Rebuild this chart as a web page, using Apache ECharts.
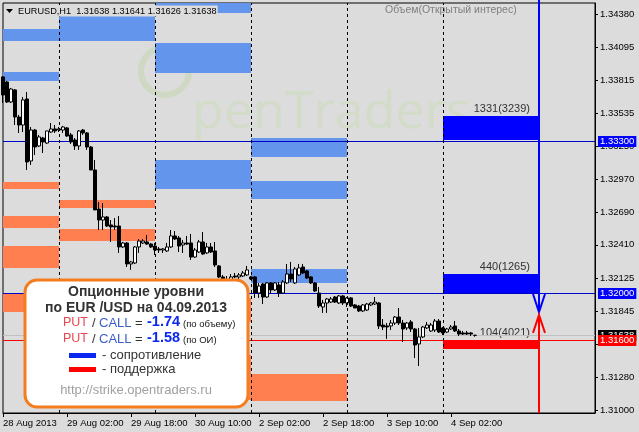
<!DOCTYPE html>
<html><head><meta charset="utf-8">
<script src="https://cdn.jsdelivr.net/npm/echarts@6/dist/echarts.min.js"></script>
<style>html,body{margin:0;padding:0;background:#dcdcdc}#c{width:639px;height:432px}</style>
</head><body><div id="c"></div><script>
// ---- time axis (hourly bars, weekend skipped) ----
const days = [
  {name:'28 Aug', first:10, count:14},
  {name:'29 Aug', first:0, count:24},
  {name:'30 Aug', first:0, count:24},
  {name:'2 Sep', first:0, count:24},
  {name:'3 Sep', first:0, count:24},
  {name:'4 Sep', first:0, count:24},
  {name:'5 Sep', first:0, count:15}
];
const tickIndex  = [0, 16, 32, 48, 64, 80, 96, 112];
const tickLabels = ['28 Aug 2013','29 Aug 02:00','29 Aug 18:00','30 Aug 10:00','2 Sep 02:00','2 Sep 18:00','3 Sep 10:00','4 Sep 02:00'];
const daySeparators = [14, 38, 62, 86, 110];
const yTicks = [1.34380,1.34095,1.33815,1.33535,1.33250,1.32970,1.32690,1.32410,1.32125,1.31845,1.31565,1.31280,1.31000];

// ---- EURUSD H1 candles: [open, close, low, high] ----
const candles = [
[1.33843,1.33689,1.33621,1.33851],[1.33800,1.33629,1.33621,1.33809],[1.33629,1.33740,1.33621,1.33749],
[1.33732,1.33501,1.33433,1.33740],[1.33501,1.33433,1.33365,1.33519],[1.33433,1.33647,1.33373,1.33672],
[1.33655,1.33117,1.33049,1.33715],[1.33126,1.33390,1.33092,1.33416],[1.33390,1.33245,1.33177,1.33399],
[1.33254,1.33331,1.33245,1.33348],[1.33322,1.33288,1.33194,1.33331],[1.33279,1.33382,1.33271,1.33382],
[1.33373,1.33399,1.33365,1.33450],[1.33399,1.33382,1.33365,1.33433],[1.33390,1.33399,1.33373,1.33416],
[1.33390,1.33416,1.33365,1.33425],[1.33408,1.33339,1.33331,1.33416],[1.33348,1.33288,1.33271,1.33365],
[1.33305,1.33254,1.33220,1.33322],[1.33254,1.33382,1.33220,1.33390],[1.33390,1.33365,1.33348,1.33399],
[1.33365,1.33245,1.33220,1.33373],[1.33245,1.33049,1.33049,1.33254],[1.33049,1.32708,1.32708,1.33134],
[1.32716,1.32622,1.32537,1.32776],[1.32622,1.32648,1.32537,1.32767],[1.32648,1.32571,1.32563,1.32656],
[1.32580,1.32563,1.32435,1.32622],[1.32571,1.32563,1.32537,1.32639],[1.32571,1.32392,1.32341,1.32656],
[1.32392,1.32426,1.32383,1.32435],[1.32426,1.32247,1.32221,1.32435],[1.32247,1.32264,1.32196,1.32272],
[1.32255,1.32392,1.32247,1.32400],[1.32392,1.32443,1.32341,1.32460],[1.32426,1.32443,1.32417,1.32460],
[1.32435,1.32417,1.32409,1.32494],[1.32417,1.32392,1.32383,1.32426],[1.32400,1.32366,1.32324,1.32426],
[1.32375,1.32366,1.32341,1.32392],[1.32366,1.32375,1.32341,1.32383],[1.32358,1.32392,1.32349,1.32426],
[1.32392,1.32486,1.32383,1.32537],[1.32486,1.32460,1.32452,1.32528],[1.32469,1.32400,1.32349,1.32486],
[1.32409,1.32426,1.32341,1.32452],[1.32426,1.32417,1.32409,1.32486],[1.32426,1.32306,1.32281,1.32503],
[1.32306,1.32366,1.32298,1.32383],[1.32349,1.32435,1.32341,1.32452],[1.32435,1.32332,1.32324,1.32520],
[1.32341,1.32392,1.32332,1.32426],[1.32392,1.32349,1.32341,1.32426],[1.32358,1.32238,1.32221,1.32435],
[1.32230,1.32136,1.32127,1.32238],[1.32136,1.32110,1.32085,1.32153],[1.32110,1.32093,1.32068,1.32144],
[1.32093,1.32136,1.32076,1.32161],[1.32144,1.32136,1.32127,1.32170],[1.32136,1.32153,1.32110,1.32170],
[1.32144,1.32170,1.32136,1.32187],[1.32153,1.32196,1.32144,1.32230],[1.32136,1.32119,1.32110,1.32144],
[1.32136,1.31999,1.31957,1.32144],[1.31999,1.32059,1.31957,1.32085],[1.32076,1.31965,1.31905,1.32085],
[1.31965,1.32085,1.31957,1.32093],[1.32085,1.32025,1.31999,1.32093],[1.32025,1.32085,1.32016,1.32093],
[1.32068,1.31999,1.31965,1.32093],[1.31999,1.32093,1.31991,1.32110],[1.32085,1.32161,1.32076,1.32247],
[1.32161,1.32119,1.32093,1.32264],[1.32085,1.32204,1.32076,1.32221],[1.32153,1.32213,1.32144,1.32247],
[1.32221,1.32170,1.32161,1.32247],[1.32187,1.32127,1.32119,1.32196],[1.32136,1.32085,1.32076,1.32144],
[1.32085,1.32016,1.32008,1.32093],[1.31999,1.31888,1.31871,1.32051],[1.31880,1.31914,1.31829,1.31940],
[1.31914,1.31948,1.31829,1.31957],[1.31922,1.31948,1.31914,1.31965],[1.31965,1.31922,1.31914,1.31974],
[1.31914,1.31974,1.31905,1.31982],[1.31974,1.31914,1.31897,1.31982],[1.31914,1.31957,1.31880,1.31965],
[1.31957,1.31888,1.31880,1.31965],[1.31897,1.31871,1.31871,1.31905],[1.31888,1.31846,1.31837,1.31897],
[1.31846,1.31897,1.31837,1.31905],[1.31854,1.31905,1.31846,1.31914],[1.31897,1.31914,1.31888,1.31922],
[1.31905,1.31922,1.31897,1.31965],[1.31914,1.31718,1.31692,1.31922],[1.31726,1.31709,1.31683,1.31777],
[1.31718,1.31709,1.31607,1.31743],[1.31718,1.31743,1.31683,1.31769],[1.31743,1.31794,1.31726,1.31803],
[1.31794,1.31743,1.31726,1.31871],[1.31743,1.31692,1.31581,1.31769],[1.31701,1.31743,1.31683,1.31752],
[1.31752,1.31692,1.31666,1.31769],[1.31692,1.31555,1.31444,1.31701],[1.31564,1.31624,1.31376,1.31701],
[1.31624,1.31709,1.31615,1.31718],[1.31701,1.31726,1.31692,1.31752],[1.31675,1.31726,1.31666,1.31743],
[1.31683,1.31760,1.31666,1.31777],[1.31760,1.31666,1.31658,1.31777],[1.31701,1.31658,1.31641,1.31709],
[1.31666,1.31692,1.31658,1.31701],[1.31692,1.31709,1.31683,1.31726],[1.31718,1.31675,1.31666,1.31760],
[1.31675,1.31649,1.31632,1.31692],[1.31658,1.31649,1.31641,1.31675],[1.31658,1.31649,1.31641,1.31675],
[1.31658,1.31649,1.31632,1.31666],[1.31638,1.31638,1.31626,1.31641]
];

// ---- option levels per day: [fromBar, toBar, lowPrice, highPrice] ----
const resistanceZones = [
  [0,14,1.34150,1.34252],[0,14,1.33809,1.33885],
  [14,38,1.34150,1.34363],
  [38,62,1.34389,1.34474],[38,62,1.33877,1.34133],[38,62,1.32887,1.33134],
  [62,86,1.33160,1.33322],[62,86,1.32802,1.32955],[62,86,1.32085,1.32204]
];
const supportZones = [
  [0,14,1.32887,1.32947],[0,14,1.32554,1.32656],[0,14,1.32213,1.32400],[0,14,1.31837,1.31999],
  [14,38,1.32725,1.32793],[14,38,1.32443,1.32545],
  [38,62,1.31752,1.31957],[38,62,1.31086,1.31470],
  [62,86,1.31078,1.31308]
];
const currentZones = [[110,134,1.33305,1.33510],[110,134,1.31999,1.32161],[110,134,1.31521,1.31598]];
const currentZoneLabels = ['1331(3239)','440(1265)','104(4021)'];
const currentZoneColors = ['#0000ff','#0000ff','#ff0000'];
const arrowData = [[134, 1.31837, 1.31812]]; // bar, blue tip, red tip
const priceLineValues = [1.33300, 1.32000, 1.31638, 1.31600];
const priceLineColors = ['#0000c8','#0000c8','#c0c0c0','#ff0000'];
const priceLabelColors = ['#0000ff','#0000ff','#000000','#ff0000'];

const cats = [];
days.forEach(d => { for (let k = 0; k < d.count; k++) cats.push(d.name + ' ' + String(d.first + k).padStart(2,'0') + ':00'); });

const FONT = 'Liberation Sans';
function zoneRender(color){
  return function(params, api){
    const p0 = api.coord([api.value(0), api.value(3)]);
    const p1 = api.coord([api.value(1), api.value(2)]);
    return {type:'rect', shape:{x:p0[0], y:p0[1], width:p1[0]-p0[0], height:p1[1]-p0[1]}, style:{fill:color}};
  };
}
const infoChildren = [
  {type:'rect', shape:{x:25, y:280, width:223, height:127, r:12}, style:{fill:'#ffffff', stroke:'#f47d20', lineWidth:3}},
  {type:'text', x:136, y:292, style:{text:'Опционные уровни', fill:'#333', fontSize:14, fontWeight:'bold', fontFamily:FONT, align:'center', verticalAlign:'middle'}},
  {type:'text', x:136, y:308, style:{text:'по EUR /USD на 04.09.2013', fill:'#333', fontSize:14, fontWeight:'bold', fontFamily:FONT, align:'center', verticalAlign:'middle'}},
  {type:'text', x:63, y:323, style:{text:'PUT', fill:'#e8464e', fontSize:12.5, fontFamily:FONT, verticalAlign:'middle'}},
  {type:'text', x:92, y:323, style:{text:'/', fill:'#333', fontSize:13, fontFamily:FONT, verticalAlign:'middle'}},
  {type:'text', x:99, y:323, style:{text:'CALL', fill:'#3a5fcd', fontSize:13, fontFamily:FONT, verticalAlign:'middle'}},
  {type:'text', x:135, y:323, style:{text:'=', fill:'#333', fontSize:13, fontFamily:FONT, verticalAlign:'middle'}},
  {type:'text', x:147, y:322, style:{text:'-1.74', fill:'#0a28f0', fontSize:14.5, fontWeight:'bold', fontFamily:FONT, verticalAlign:'middle'}},
  {type:'text', x:183, y:324, style:{text:'(по объему)', fill:'#111', fontSize:9.5, fontFamily:FONT, verticalAlign:'middle'}},
  {type:'text', x:63, y:339, style:{text:'PUT', fill:'#e8464e', fontSize:12.5, fontFamily:FONT, verticalAlign:'middle'}},
  {type:'text', x:92, y:339, style:{text:'/', fill:'#333', fontSize:13, fontFamily:FONT, verticalAlign:'middle'}},
  {type:'text', x:99, y:339, style:{text:'CALL', fill:'#3a5fcd', fontSize:13, fontFamily:FONT, verticalAlign:'middle'}},
  {type:'text', x:135, y:339, style:{text:'=', fill:'#333', fontSize:13, fontFamily:FONT, verticalAlign:'middle'}},
  {type:'text', x:147, y:338, style:{text:'-1.58', fill:'#0a28f0', fontSize:14.5, fontWeight:'bold', fontFamily:FONT, verticalAlign:'middle'}},
  {type:'text', x:183, y:340, style:{text:'(по ОИ)', fill:'#111', fontSize:9.5, fontFamily:FONT, verticalAlign:'middle'}},
  {type:'rect', shape:{x:69, y:353, width:27, height:5}, style:{fill:'#0a28f0'}},
  {type:'text', x:102, y:355, style:{text:'- сопротивление', fill:'#333', fontSize:13, fontFamily:FONT, verticalAlign:'middle'}},
  {type:'rect', shape:{x:69, y:367, width:27, height:5}, style:{fill:'#ff0000'}},
  {type:'text', x:102, y:369, style:{text:'- поддержка', fill:'#333', fontSize:13, fontFamily:FONT, verticalAlign:'middle'}},
  {type:'text', x:136, y:390, style:{text:'http://strike.opentraders.ru', fill:'#a0a0a0', fontSize:13, fontFamily:FONT, align:'center', verticalAlign:'middle'}}
].map(e => Object.assign({z:100, silent:true}, e));

const chart = echarts.init(document.getElementById('c'), null, {renderer:'canvas'});
chart.setOption({
  animation:false,
  backgroundColor:'#dcdcdc',
  textStyle:{fontFamily:FONT},
  grid:{left:3, right:44, top:3, bottom:19, show:true, borderColor:'#000', borderWidth:1, backgroundColor:'transparent'},
  xAxis:{
    type:'category', data:cats, boundaryGap:false,
    axisLine:{lineStyle:{color:'#000', width:1}},
    axisTick:{show:true, interval:(i)=>tickIndex.includes(i), length:4, lineStyle:{color:'#000'}},
    axisLabel:{interval:(i)=>tickIndex.includes(i), formatter:(v,i)=>{const k=tickIndex.indexOf(i);return k>=0?tickLabels[k]:'';},
      align:'left', margin:5, color:'#000', fontSize:9.5, fontFamily:FONT},
    splitLine:{show:false}
  },
  yAxis:{
    type:'value', position:'right', min:1.30975, max:1.34474, scale:true,
    axisLine:{show:true, lineStyle:{color:'#000'}},
    axisTick:{show:true, customValues:yTicks, length:3, lineStyle:{color:'#000'}},
    axisLabel:{customValues:yTicks, formatter:v=>v.toFixed(5), margin:5, color:'#000', fontSize:9.5, fontFamily:FONT},
    splitLine:{show:false}
  },
  series:[
    {type:'custom', name:'resistance', z:1, silent:true, encode:{x:[0,1], y:[2,3]}, data:resistanceZones, renderItem:zoneRender('#6495ed')},
    {type:'custom', name:'support', z:1, silent:true, encode:{x:[0,1], y:[2,3]}, data:supportZones, renderItem:zoneRender('#ff7f50')},
    {type:'custom', name:'current', z:1, silent:true, encode:{x:[0,1], y:[2,3]}, data:currentZones,
      renderItem:function(params, api){
        const p0 = api.coord([api.value(0), api.value(3)]);
        const p1 = api.coord([api.value(1), api.value(2)]);
        return {type:'group', children:[
          {type:'rect', shape:{x:p0[0], y:p0[1], width:p1[0]-p0[0], height:p1[1]-p0[1]}, style:{fill:currentZoneColors[params.dataIndex]}},
          {type:'text', x:p1[0]-9, y:p0[1]-7, style:{text:currentZoneLabels[params.dataIndex], fill:'#333', fontSize:11, fontFamily:FONT, align:'right', verticalAlign:'middle'}}
        ]};
      }},
    {type:'line', name:'sep', z:2, data:[], silent:true,
      markLine:{symbol:'none', silent:true, animation:false, label:{show:false},
        lineStyle:{color:'#000', type:[3,3], width:1}, data:daySeparators.map(i=>({xAxis:i}))}},
    {type:'custom', name:'priceLines', z:2, silent:true, clip:false, encode:{x:0, y:1},
      data:priceLineValues.map(v=>[0, v]),
      renderItem:function(params, api){
        const y = Math.round(api.coord([0, api.value(1)])[1]) + 0.5;
        const cs = params.coordSys;
        const i = params.dataIndex;
        return {type:'group', children:[
          {type:'line', shape:{x1:cs.x, y1:y, x2:cs.x+cs.width, y2:y}, style:{stroke:priceLineColors[i], lineWidth:1}},
          {type:'text', z2:10+i, x:cs.x+cs.width+3, y:y, style:{text:api.value(1).toFixed(5), fill:'#fff', backgroundColor:priceLabelColors[i],
            fontSize:9.5, fontFamily:FONT, verticalAlign:'middle', align:'left', padding:[1,2,0,2], lineHeight:10}}
        ]};
      }},
    {type:'candlestick', name:'EURUSD', z:3, data:candles, barWidth:3, silent:true,
      itemStyle:{color:'#ffffff', color0:'#000000', borderColor:'#000000', borderColor0:'#000000', borderWidth:1}},
    {type:'custom', name:'arrows', z:5, silent:true, clip:false, encode:{x:0, y:[1,2]}, data:arrowData,
      renderItem:function(params, api){
        const b = api.coord([api.value(0), api.value(1)]);
        const r = api.coord([api.value(0), api.value(2)]);
        const x = b[0];
        const top = params.coordSys.y - 3, bottom = params.coordSys.y + params.coordSys.height;
        return {type:'group', children:[
          {type:'line', shape:{x1:x, y1:top, x2:x, y2:b[1]}, style:{stroke:'#0000ff', lineWidth:2}},
          {type:'polyline', shape:{points:[[x-6,b[1]-18],[x,b[1]],[x+6,b[1]-18]]}, style:{stroke:'#0000ff', lineWidth:2, fill:null}},
          {type:'line', shape:{x1:x, y1:r[1], x2:x, y2:bottom}, style:{stroke:'#ff0000', lineWidth:2}},
          {type:'polyline', shape:{points:[[x-6,r[1]+18],[x,r[1]],[x+6,r[1]+18]]}, style:{stroke:'#ff0000', lineWidth:2, fill:null}}
        ]};
      }}
  ],
  graphic:[
    // watermark
    {type:'circle', z:0, silent:true, shape:{cx:165, cy:71, r:24}, style:{stroke:'#cfd8c2', lineWidth:6, fill:'rgba(0,0,0,0)'}},
    {type:'text', z:0, x:192, y:87, silent:true, style:{text:'penTraders', fill:'#d3dbc9', fontSize:52, fontFamily:'Open Sans', verticalAlign:'alphabetic'}},
    // header
    {type:'polygon', z:50, silent:true, shape:{points:[[6,9],[13,9],[9.5,13]]}, style:{fill:'#000'}},
    {type:'text', z:50, silent:true, x:17, y:11, style:{text:'EURUSD,H1  1.31638 1.31641 1.31626 1.31638', fill:'#000', fontSize:9.2, fontFamily:FONT, verticalAlign:'middle', backgroundColor:'#dcdcdc', padding:[1,1]}},
    {type:'text', z:50, silent:true, x:385, y:10, style:{text:'Объем(Открытый интерес)', fill:'#7f7f7f', fontSize:10.5, fontFamily:FONT, verticalAlign:'middle'}},
    // info box
    {type:'group', z:100, children:infoChildren}
  ]
});
</script></body></html>
